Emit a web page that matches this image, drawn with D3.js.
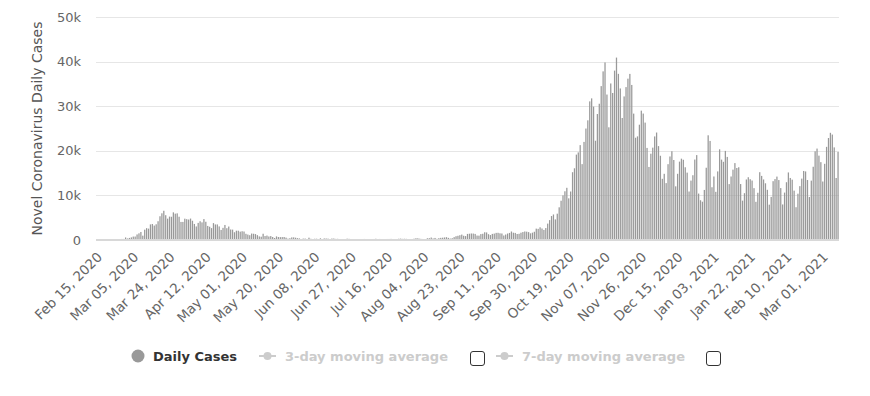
<!DOCTYPE html>
<html><head><meta charset="utf-8">
<script src="https://cdn.jsdelivr.net/npm/d3@7"></script>
<style>
body{margin:0;background:#fff;}
svg{display:block;font-family:"DejaVu Sans",sans-serif;}
</style></head>
<body><svg id="c" width="870" height="396"></svg>
<script>
const startDate = "2020-02-15";
const endDate = "2021-03-09";
const dailyCases = [
0,0,0,0,0,0,
17,59,78,72,94,147,185,234,239,
566,342,466,587,769,778,1247,1492,1797,977,2313,2651,2547,3497,3590,3233,3526,4207,5322,5986,6557,5560,4789,5249,5210,6203,5909,5974,5217,4050,4053,
4782,4668,4585,4805,4316,3599,3039,3836,4204,3951,4694,4092,3153,2972,2667,3786,3493,3491,3047,2256,2729,3370,2646,3021,2357,2324,1739,2091,2086,1872,
1965,1900,1389,1221,1075,1444,1401,1327,1083,802,744,1402,888,992,789,875,675,451,813,665,642,652,669,531,300,397,584,593,516,416,355,
178,318,321,177,518,270,197,280,283,202,379,163,346,338,301,210,328,333,251,262,224,218,122,190,296,259,175,174,126,142,
187,201,223,235,192,208,138,193,229,276,188,234,169,114,162,230,233,249,219,190,129,282,306,252,275,255,170,181,212,289,386,
379,295,238,159,190,384,402,552,347,463,259,412,481,523,574,629,479,320,403,642,845,947,1071,1210,953,878,1367,1411,1460,1444,1365,
996,978,1326,1397,1733,1695,1297,1108,1370,1434,1597,1616,1501,1458,1008,1229,1452,1585,1907,1638,1587,1350,1392,1640,1786,1912,1869,1766,1494,1648,
1851,2548,2499,2844,2578,2257,2677,3678,4458,5372,5724,4619,5901,7332,8804,10010,10925,11705,9338,10874,15199,16079,19143,19644,21273,17012,21994,24991,26831,31084,31758,
29907,22253,28244,30550,34505,37809,39811,32616,25271,35098,32961,37978,40902,37255,33979,27354,32191,34283,36176,37242,34767,28337,22930,23232,25853,29003,28352,26323,20648,16377,
19350,20709,23225,24099,21052,18887,13720,14842,12756,16999,18727,19903,17938,12030,14844,17572,18236,17992,16308,15104,10872,13318,14522,18040,19037,10407,8913,8585,11224,16202,23477,
22211,11831,14245,10800,15378,20331,18020,17533,19978,18627,12532,14242,15774,17246,16146,16310,12545,8824,10497,13571,14078,13633,13331,11629,8561,10593,15204,14372,13574,12715,11252,
7925,9660,13189,13659,14218,13442,11641,7970,10630,12956,15146,13908,13532,11068,7351,10386,12074,13762,15479,15370,13452,9630,13314,16424,19886,20499,18916,17455,
13114,17083,20884,22865,24036,23641,20765,13902,19749
];
const yTicks = [0,10000,20000,30000,40000,50000];
const yTickLabels = ["0","10k","20k","30k","40k","50k"];
const xTickLabels = ["Feb 15, 2020","Mar 05, 2020","Mar 24, 2020","Apr 12, 2020","May 01, 2020","May 20, 2020","Jun 08, 2020","Jun 27, 2020","Jul 16, 2020","Aug 04, 2020","Aug 23, 2020","Sep 11, 2020","Sep 30, 2020","Oct 19, 2020","Nov 07, 2020","Nov 26, 2020","Dec 15, 2020","Jan 03, 2021","Jan 22, 2021","Feb 10, 2021","Mar 01, 2021"];
const legendItems = ["Daily Cases","3-day moving average","7-day moving average"];
const yTitle = "Novel Coronavirus Daily Cases";

const fmt = d3.timeFormat("%b %d, %Y");
const parse = d3.timeParse("%Y-%m-%d");
const categories = d3.timeDay.range(parse(startDate), d3.timeDay.offset(parse(endDate),1)).map(fmt);

const svg = d3.select("#c");
const pLeft = 96, pRight = 839, pTop = 17, pBottom = 240;
const x = d3.scaleBand().domain(categories).range([pLeft, pRight]);
const y = d3.scaleLinear().domain([0,50000]).range([pBottom, pTop]);

// grid
svg.append("g").selectAll("line").data(yTicks.filter(d=>d>0)).join("line")
  .attr("x1", pLeft).attr("x2", pRight)
  .attr("y1", d=>Math.round(y(d))+0.5).attr("y2", d=>Math.round(y(d))+0.5)
  .attr("stroke","#e6e6e6").attr("stroke-width",1);

// y axis labels
const yAxis = d3.axisLeft(y).tickValues(yTicks).tickFormat((d,i)=>yTickLabels[i]).tickSize(0).tickPadding(0);
const yg = svg.append("g").attr("transform",`translate(${pLeft-15},0)`).call(yAxis);
yg.select(".domain").remove();
yg.selectAll("text").attr("font-size","13px").attr("fill","#666").attr("font-family","DejaVu Sans, sans-serif");

// y title
svg.append("text").attr("transform",`translate(42,${(pTop+pBottom)/2}) rotate(-90)`)
  .attr("text-anchor","middle").attr("font-size","14px").attr("fill","#555").text(yTitle);

// bars
const bw = x.bandwidth()*0.66;
svg.append("g").selectAll("rect").data(dailyCases).join("rect")
  .attr("x",(d,i)=>x(categories[i]) + (x.bandwidth()-bw)/2)
  .attr("width",bw)
  .attr("y",d=>y(d))
  .attr("height",d=>pBottom-y(d))
  .attr("fill","#999");

// x axis line
svg.append("line").attr("x1",pLeft).attr("x2",pRight).attr("y1",pBottom).attr("y2",pBottom)
  .attr("stroke","#d8d8d8").attr("stroke-width",2);

// x labels
const xAxis = d3.axisBottom(x).tickValues(xTickLabels).tickSize(0).tickPadding(0);
const xg = svg.append("g").attr("transform",`translate(0,${pBottom})`).call(xAxis);
xg.select(".domain").remove();
xg.selectAll("text").attr("font-size","13.5px").attr("fill","#666").attr("font-family","DejaVu Sans, sans-serif")
  .attr("text-anchor","end").attr("dy",null).attr("y",null)
  .attr("transform","translate(6,18) rotate(-45)");

// legend
const lg = svg.append("g").attr("font-weight","bold").attr("font-size","13px");
lg.append("circle").attr("cx",138).attr("cy",356).attr("r",6.5).attr("fill","#999");
lg.append("text").attr("x",153).attr("y",361).attr("fill","#333").text(legendItems[0]);
[[259,285,470],[496,522,706]].forEach((p,i)=>{
  lg.append("line").attr("x1",p[0]).attr("x2",p[0]+17).attr("y1",356).attr("y2",356).attr("stroke","#ccc").attr("stroke-width",2);
  lg.append("circle").attr("cx",p[0]+8.5).attr("cy",356).attr("r",4).attr("fill","#ccc");
  lg.append("text").attr("x",p[1]).attr("y",361).attr("fill","#ccc").text(legendItems[i+1]);
  lg.append("rect").attr("x",p[2]+0.5).attr("y",351.5).attr("width",14).attr("height",14).attr("rx",2.5)
    .attr("fill","#fff").attr("stroke","#333").attr("stroke-width",1);
});
</script></body></html>
